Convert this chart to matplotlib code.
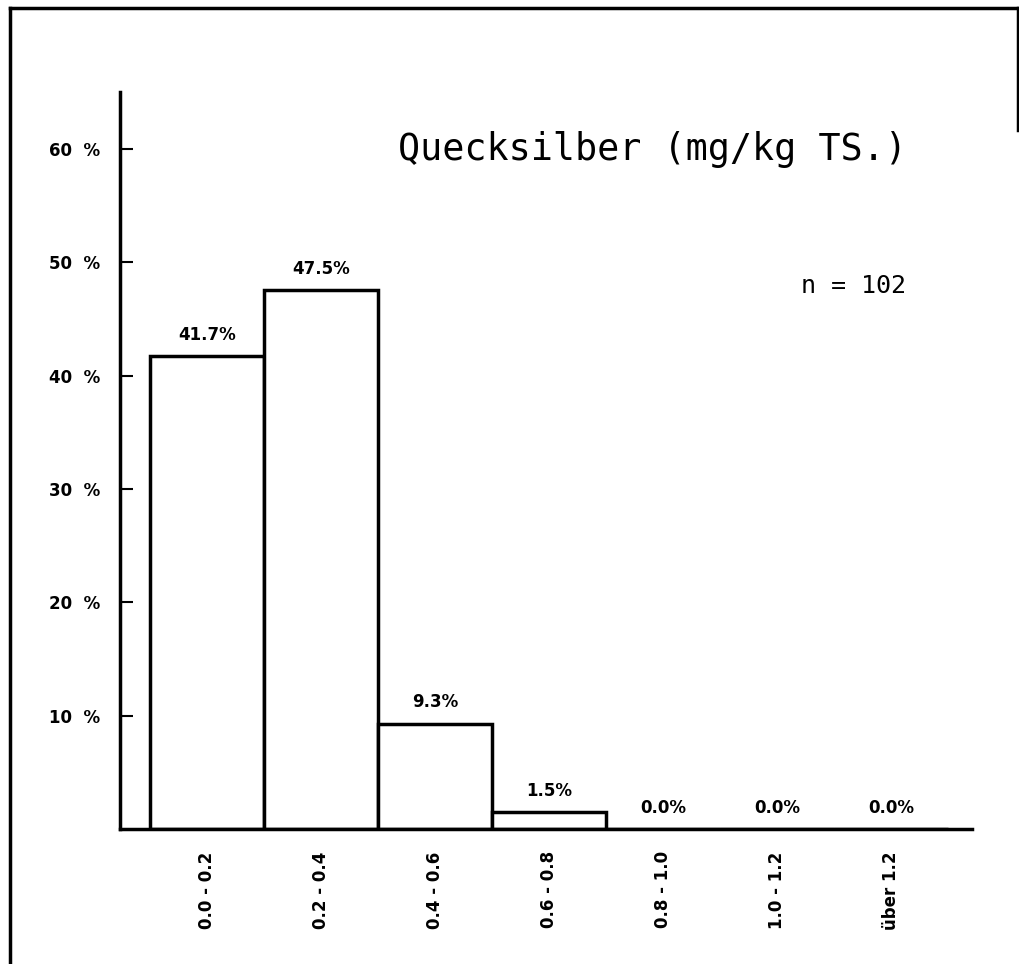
import matplotlib
matplotlib.use("Agg")
import matplotlib.pyplot as plt
from matplotlib.lines import Line2D

# ── Data ────────────────────────────────────────────────────────────
CLASSES = ["0.0 - 0.2", "0.2 - 0.4", "0.4 - 0.6", "0.6 - 0.8",
           "0.8 - 1.0", "1.0 - 1.2", "über 1.2"]
PERCENT = [41.7, 47.5, 9.3, 1.5, 0.0, 0.0, 0.0]
Y_TICKS = [10, 20, 30, 40, 50, 60]
N_SAMPLES = 102

plt.rcParams["font.family"] = ["DejaVu Sans"]

fig = plt.figure(figsize=(10.2, 9.64), dpi=100)
ax = fig.add_axes([0.1176, 0.140, 0.8354, 0.7645])

x = range(len(CLASSES))
ax.bar(x, PERCENT, width=1.0, facecolor="white",
       edgecolor="black", linewidth=2.5)

for xi, v in zip(x, PERCENT):
    ax.annotate(f"{v:.1f}%", (xi, v), textcoords="offset points",
                xytext=(0, 9), ha="center", va="bottom",
                fontsize=12, fontweight="bold")

ax.set_xlim(-0.76, 6.71)
ax.set_ylim(0, 65)

ax.set_yticks(Y_TICKS)
ax.set_yticklabels([f"{t}  %" for t in Y_TICKS], fontsize=12, fontweight="bold")
ax.tick_params(axis="y", direction="in", length=9, width=1.5, pad=14)

ax.set_xticks(list(x))
ax.set_xticklabels(CLASSES, rotation=90, fontsize=12, fontweight="bold", va="top")
ax.tick_params(axis="x", length=0, pad=16)

for s in ["top", "right"]:
    ax.spines[s].set_visible(False)
for s in ["left", "bottom"]:
    ax.spines[s].set_linewidth(2.5)

ax.text(0.923, 0.922, "Quecksilber (mg/kg TS.)", transform=ax.transAxes,
        ha="right", va="center", fontsize=26.5, family="DejaVu Sans Mono")
ax.text(0.923, 0.737, f"n = {N_SAMPLES}", transform=ax.transAxes,
        ha="right", va="center", fontsize=18, family="DejaVu Sans Mono")

# outer frame (left, top, partial right)
lw = 2.5
fig.add_artist(Line2D([10/1020, 10/1020], [0, 1 - 8/964], color="black", lw=lw))
fig.add_artist(Line2D([10/1020, 1018/1020], [1 - 8/964, 1 - 8/964], color="black", lw=lw))
fig.add_artist(Line2D([1018/1020, 1018/1020], [1 - 8/964, 1 - 130/964], color="black", lw=lw))

fig.savefig("out.png", dpi=100)
